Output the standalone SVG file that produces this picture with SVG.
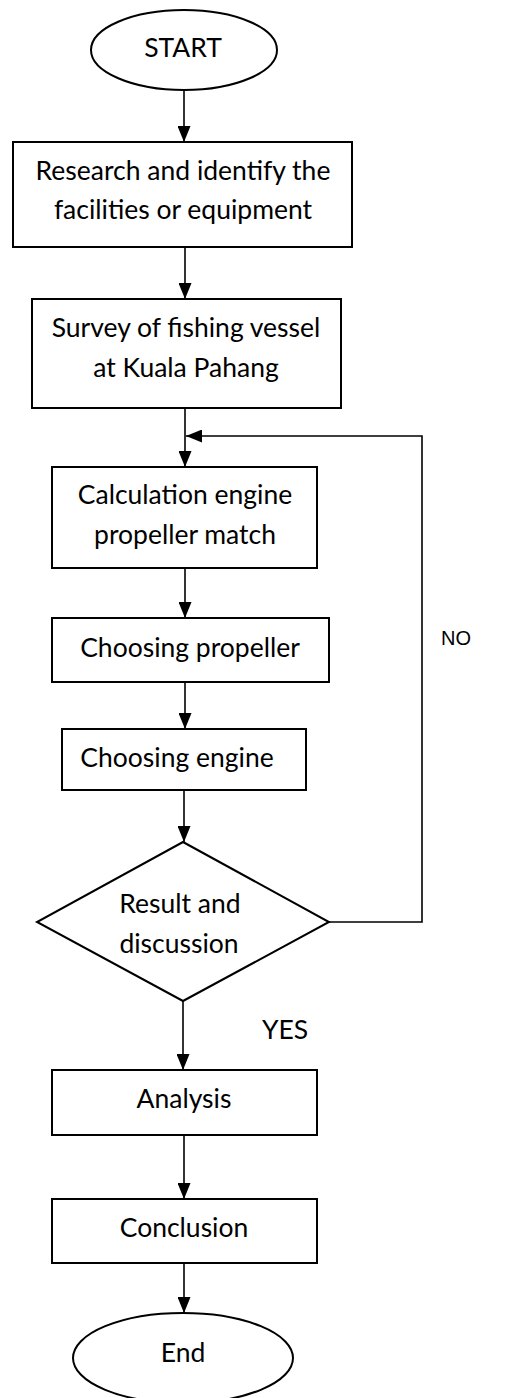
<svg xmlns="http://www.w3.org/2000/svg" width="507" height="1398" viewBox="0 0 507 1398">
<defs>
<style>
.shape{fill:#fff;stroke:#000;stroke-width:2}
.con{fill:none;stroke:#000;stroke-width:1.6}
.t{font-family:Lato,"Open Sans","Liberation Sans",sans-serif;font-size:26.5px;fill:#000;text-anchor:middle}
.a{font-family:"Liberation Sans",Arial,sans-serif;font-size:20px;fill:#000}
</style>
<marker id="ah" markerUnits="userSpaceOnUse" markerWidth="16" markerHeight="13" refX="16" refY="6.5" orient="auto">
<path d="M0,0 L16,6.5 L0,13 z" fill="#000"/>
</marker>
</defs>
<rect width="507" height="1398" fill="#fff"/>
<g id="connectors">
<line class="con" x1="184" y1="90" x2="184" y2="142" marker-end="url(#ah)"/>
<line class="con" x1="185" y1="247" x2="185" y2="299" marker-end="url(#ah)"/>
<line class="con" x1="185" y1="408" x2="185" y2="467" marker-end="url(#ah)"/>
<line class="con" x1="185" y1="568" x2="185" y2="618" marker-end="url(#ah)"/>
<line class="con" x1="185" y1="682" x2="185" y2="729" marker-end="url(#ah)"/>
<line class="con" x1="184" y1="790" x2="184" y2="842" marker-end="url(#ah)"/>
<line class="con" x1="183" y1="1001" x2="183" y2="1070" marker-end="url(#ah)"/>
<line class="con" x1="184" y1="1135" x2="184" y2="1199" marker-end="url(#ah)"/>
<line class="con" x1="184" y1="1263" x2="184" y2="1313" marker-end="url(#ah)"/>
<polyline class="con" points="329,922 422,922 422,436 186,436" marker-end="url(#ah)"/>
<text class="a" x="441" y="645">NO</text>
<text class="t" x="262" y="1039" style="text-anchor:start">YES</text>
</g>
<g id="start">
<ellipse class="shape" cx="184" cy="50" rx="93" ry="40"/>
<text class="t" x="183" y="57">START</text>
</g>
<g id="research">
<rect class="shape" x="13" y="142" width="339" height="105"/>
<text class="t" x="183" y="180">Research and identify the</text>
<text class="t" x="183" y="219">facilities or equipment</text>
</g>
<g id="survey">
<rect class="shape" x="32" y="299" width="309" height="109"/>
<text class="t" x="186" y="337">Survey of fishing vessel</text>
<text class="t" x="186" y="377">at Kuala Pahang</text>
</g>
<g id="calculation">
<rect class="shape" x="52" y="467" width="265" height="101"/>
<text class="t" x="185" y="504">Calculation engine</text>
<text class="t" x="185" y="544">propeller match</text>
</g>
<g id="propeller">
<rect class="shape" x="52" y="618" width="277" height="64"/>
<text class="t" x="190" y="657">Choosing propeller</text>
</g>
<g id="engine">
<rect class="shape" x="62" y="729" width="244" height="61"/>
<text class="t" x="177" y="767">Choosing engine</text>
</g>
<g id="decision">
<polygon class="shape" points="183,842 329,922 183,1001 37,922"/>
<text class="t" x="180" y="913">Result and</text>
<text class="t" x="179" y="953">discussion</text>
</g>
<g id="analysis">
<rect class="shape" x="52" y="1070" width="265" height="65"/>
<text class="t" x="184" y="1108">Analysis</text>
</g>
<g id="conclusion">
<rect class="shape" x="52" y="1199" width="265" height="64"/>
<text class="t" x="184" y="1237">Conclusion</text>
</g>
<g id="end">
<ellipse class="shape" cx="183" cy="1358" rx="110" ry="45"/>
<text class="t" x="183" y="1362">End</text>
</g>
</svg>
